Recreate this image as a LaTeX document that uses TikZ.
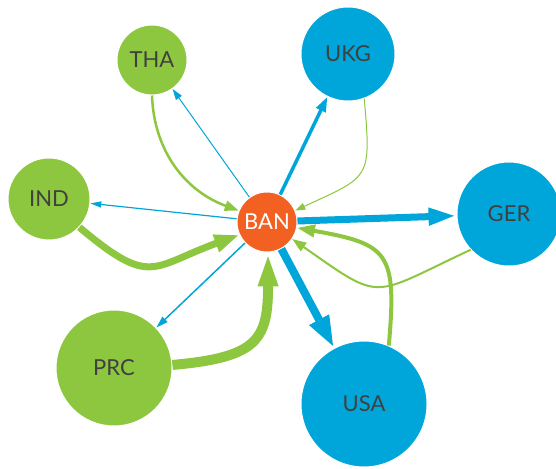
\documentclass[tikz,border=0pt]{standalone}
\usepackage{fontspec}
\setmainfont{Lato}
\usetikzlibrary{arrows.meta}

\begin{document}
\begin{tikzpicture}[x=1pt,y=1pt,
    every node/.style={font=\fontsize{22}{22}\selectfont},
    country/.style={circle, inner sep=0pt, draw=white, line width=1pt, text=labelgray}]
    \definecolor{flowblue}{HTML}{00A6DA}
    \definecolor{flowgreen}{HTML}{8DC63F}
    \definecolor{hubred}{HTML}{F26122}
    \definecolor{labelgray}{HTML}{404040}

    \useasboundingbox (0,0) rectangle (556,468);

    % =================== countries ===================
    \node[country, fill=hubred, text=white, minimum size=60pt] (ban) at (267,246) {BAN};
    \node[country, fill=flowgreen, minimum size=70pt]  (tha) at (152,408) {THA};
    \node[country, fill=flowblue,  minimum size=94pt]  (ukg) at (348,414) {UKG};
    \node[country, fill=flowgreen, minimum size=82pt]  (ind) at (49,269)  {IND};
    \node[country, fill=flowblue,  minimum size=104pt] (ger) at (509,254) {GER};
    \node[country, fill=flowgreen, minimum size=116pt] (prc) at (114,100) {PRC};
    \node[country, fill=flowblue,  minimum size=126pt] (usa) at (364,64)  {USA};

    % =================== outgoing (blue) ===================
    \draw[flowblue, line width=1pt, -{Triangle[length=11pt,width=7pt]}] (ban) -- (tha);
    \draw[flowblue, line width=3.5pt, -{Triangle[length=15pt,width=10pt]}] (ban) -- (ukg);
    \draw[flowblue, line width=1.2pt, -{Triangle[length=11pt,width=6pt]}] (ban) -- (ind);
    \draw[flowblue, line width=7pt, -{Triangle[length=28pt,width=16pt]}] (ban) -- (ger);
    \draw[flowblue, line width=1.5pt, -{Triangle[length=12pt,width=7pt]}] (ban) -- (prc);
    \draw[flowblue, line width=8pt, -{Triangle[length=32pt,width=20pt]}] (ban) -- (usa);

    % =================== incoming (green) ===================
    \draw[flowgreen, line width=2.5pt, -{Triangle[length=14pt,width=10pt]}]
      (tha.south) to[out=-88, in=160] (ban.158);
    \draw[flowgreen, line width=1pt, -{Triangle[length=10pt,width=7pt]}]
      (ukg.-70) to[out=-85, in=25, looseness=1.6] (ban.22);
    \draw[flowgreen, line width=7pt, -{Triangle[length=25pt,width=17pt]}]
      (ind.-43) to[out=-40, in=200, looseness=1.5] (ban.205);
    \draw[flowgreen, line width=2pt, -{Triangle[length=14pt,width=10pt]}]
      (ger.223) to[out=-155, in=-35, looseness=1.6] (ban.-34);
    \draw[flowgreen, line width=10pt, -{Triangle[length=34pt,width=18pt]}]
      (prc.3) to[out=5, in=-90, looseness=1.5] (ban.-88);
    \draw[flowgreen, line width=4pt, -{Triangle[length=18pt,width=12pt]}]
      (usa.67) to[out=85, in=-10, looseness=1.6] (ban.-11);
\end{tikzpicture}
\end{document}
